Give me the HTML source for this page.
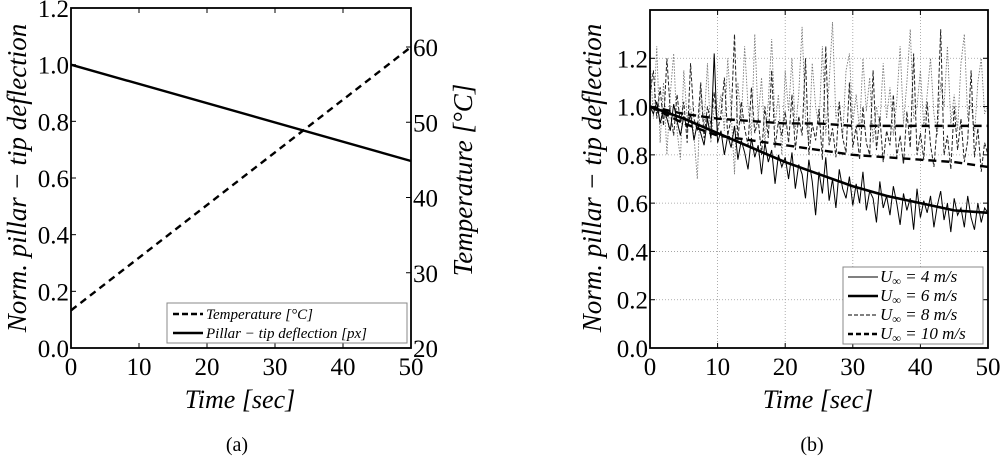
<!DOCTYPE html>
<html><head><meta charset="utf-8"><style>
body{margin:0;background:#fff;}
svg text{font-family:"Liberation Serif",serif;fill:#000;}
</style></head><body>
<svg id="fig" width="1000" height="464" viewBox="0 0 1000 464" xmlns="http://www.w3.org/2000/svg"></svg>
<script>
// ---- Panel (a) data ----
const aTime = [0, 50];
const aDeflection = [1.0, 0.66];
const aTemperature = [25.0, 60.0];
const aXTicks = [0, 10, 20, 30, 40, 50];
const aYTicks = ["0.0","0.2","0.4","0.6","0.8","1.0","1.2"];
const aY2Ticks = [20, 30, 40, 50, 60];
// ---- Panel (b) data ----
const bXTicks = [0, 10, 20, 30, 40, 50];
const bYTicks = ["0.0","0.2","0.4","0.6","0.8","1.0","1.2"];
const bTrendTime = [0,5,10,15,20,25,30,35,40,45,50];
const bU6 = [1.0,0.95,0.89,0.83,0.77,0.72,0.67,0.63,0.60,0.57,0.56];
const bU10Mean = [1.0,0.97,0.95,0.94,0.93,0.93,0.92,0.92,0.92,0.92,0.92];
const bU8Mean = [1.0,0.93,0.88,0.86,0.84,0.82,0.80,0.79,0.78,0.77,0.75];
const bU4 = [1.00,0.97,1.02,0.93,0.99,0.95,0.90,1.01,0.94,0.88,0.96,0.91,0.97,0.86,0.93,0.89,0.84,0.95,0.87,1.22,0.85,
0.90,0.80,0.88,0.83,0.92,0.78,0.86,0.81,0.74,0.87,0.79,0.84,0.72,0.85,0.77,0.82,0.68,0.80,0.75,0.79,
0.70,0.81,0.66,0.76,0.72,0.62,0.78,0.69,0.55,0.73,0.64,0.79,0.61,0.70,0.58,0.74,0.66,0.62,0.71,0.59,
0.68,0.60,0.73,0.57,0.65,0.62,0.52,0.69,0.58,0.63,0.55,0.67,0.60,0.51,0.64,0.57,0.62,0.49,0.66,0.54,
0.61,0.56,0.63,0.50,0.59,0.65,0.53,0.60,0.48,0.62,0.55,0.58,0.50,0.63,0.54,0.49,0.60,0.52,0.58,0.56];
const bU8 = [1.05,1.15,0.95,1.08,0.92,1.20,0.98,0.88,1.05,0.93,1.02,0.85,1.18,0.95,0.90,1.10,0.87,1.00,0.93,1.06,0.90,
0.97,1.12,0.88,0.95,1.30,0.86,1.02,0.91,0.84,1.08,0.89,0.95,0.80,1.00,0.87,1.15,0.83,0.94,0.88,0.98,
0.85,1.05,0.82,0.96,0.88,1.20,0.80,0.93,0.86,0.99,0.78,1.25,0.84,0.91,0.79,1.02,0.87,0.81,1.10,0.83,
0.92,0.78,1.00,0.85,0.80,1.15,0.82,0.96,0.77,0.90,0.84,1.05,0.79,0.88,0.76,0.98,0.83,1.22,0.80,0.89,
0.78,1.02,0.84,0.75,0.93,1.32,0.80,0.88,0.74,1.00,0.82,0.95,0.77,0.86,1.15,0.79,0.91,0.73,0.85,0.80];
const bU10 = [1.20,0.95,1.25,0.85,1.10,0.80,1.05,1.22,0.90,0.78,1.15,0.95,1.00,0.88,0.70,1.08,0.92,1.18,0.85,1.00,0.95,
1.05,0.90,1.20,0.98,0.72,1.10,0.93,1.25,1.00,0.88,1.30,0.95,1.12,0.85,1.02,1.28,0.92,1.05,0.80,1.15,
0.98,1.20,0.90,1.05,1.33,0.95,0.85,1.18,1.00,0.92,1.25,0.88,1.10,1.35,0.95,1.02,0.87,1.15,1.22,0.93,
1.05,0.90,1.20,0.98,1.12,0.85,1.00,0.92,1.18,0.95,1.08,0.88,1.02,1.25,0.93,1.10,1.32,0.95,1.00,1.15,
0.92,1.05,1.20,0.97,0.88,1.10,1.00,1.25,0.93,1.05,0.90,1.18,1.30,0.95,1.02,0.88,1.10,1.20,0.97,1.00];

const NS="http://www.w3.org/2000/svg";
const svg=document.getElementById('fig');
function mk(tag,attrs,parent){const e=document.createElementNS(NS,tag);for(const k in attrs)e.setAttribute(k,attrs[k]);(parent||svg).appendChild(e);return e;}
function txt(s,x,y,size,anchor,italic,parent){const t=mk('text',{x:x,y:y,'font-size':size,'text-anchor':anchor||'middle'},parent);if(italic)t.setAttribute('font-style','italic');t.textContent=s;return t;}

// ===== Panel (a) =====
const A={x0:71,x1:411,y0:348,y1:8};
const ax=t=>A.x0+(t/50)*(A.x1-A.x0);
const ay=v=>A.y0-(v/1.2)*(A.y0-A.y1);
const ay2=v=>A.y0-((v-20)/40)*(A.y0-47);
const gA=mk('g',{});


aXTicks.forEach(t=>{
  mk('line',{x1:ax(t),x2:ax(t),y1:A.y0,y2:A.y0-5,stroke:'#000','stroke-width':1},gA);
  mk('line',{x1:ax(t),x2:ax(t),y1:A.y1,y2:A.y1+5,stroke:'#000','stroke-width':1},gA);
  const l=txt(String(t),ax(t),375,25,'middle',false,gA);
  
  
});
aYTicks.forEach(s=>{const v=parseFloat(s);
  mk('line',{x1:A.x0,x2:A.x0+5,y1:ay(v),y2:ay(v),stroke:'#000','stroke-width':1},gA);
  const l=txt(s,69,ay(v)+9,25,'end',false,gA);
  
  
});
aY2Ticks.forEach(v=>{
  mk('line',{x1:A.x1,x2:A.x1-5,y1:ay2(v),y2:ay2(v),stroke:'#000','stroke-width':1},gA);
  const l=txt(String(v),413,ay2(v)+9,25,'start',false,gA);
  
  
});
const aT=mk('polyline',{points:aTime.map((t,i)=>ax(t)+','+ay2(aTemperature[i])).join(' '),fill:'none',stroke:'#000','stroke-width':2.4,'stroke-dasharray':'7,5'},gA);


const aD=mk('polyline',{points:aTime.map((t,i)=>ax(t)+','+ay(aDeflection[i])).join(' '),fill:'none',stroke:'#000','stroke-width':2.4},gA);


const aBox=mk('rect',{x:A.x0,y:A.y1,width:A.x1-A.x0,height:A.y0-A.y1,fill:'none',stroke:'#000','stroke-width':1.8},gA);


const aLeg=mk('g',{},gA);


mk('rect',{x:167,y:303,width:240,height:40,fill:'#fff',stroke:'#888','stroke-width':1},aLeg);
mk('line',{x1:173,x2:203,y1:314,y2:314,stroke:'#000','stroke-width':2.4,'stroke-dasharray':'6,3'},aLeg);
mk('line',{x1:173,x2:203,y1:333,y2:333,stroke:'#000','stroke-width':2.4},aLeg);
txt('Temperature [°C]',206,319,15,'start',true,aLeg);
txt('Pillar − tip deflection [px]',206,338,15,'start',true,aLeg);
txt('Time [sec]',240,408,26,'middle',true,gA);
let t1=txt('Norm. pillar − tip deflection',0,0,27,'middle',true,gA);
t1.setAttribute('transform','translate(26,178) rotate(-90)');

let t2=txt('Temperature [°C]',0,0,27,'middle',true,gA);
t2.setAttribute('transform','translate(472,180) rotate(-90)');

txt('(a)',237,451,20,'middle',false,gA);

// ===== Panel (b) =====
const B={x0:650,x1:988,y0:348,y1:10};
const bx=t=>B.x0+(t/50)*(B.x1-B.x0);
const by=v=>B.y0-(v/1.4)*(B.y0-B.y1);
const gB=mk('g',{});


bXTicks.forEach(t=>{
  if(t>0&&t<50) mk('line',{x1:bx(t),x2:bx(t),y1:B.y0,y2:B.y1,stroke:'#999','stroke-width':0.8,'stroke-dasharray':'1,2'},gB);
  mk('line',{x1:bx(t),x2:bx(t),y1:B.y0,y2:B.y0-5,stroke:'#000'},gB);
  mk('line',{x1:bx(t),x2:bx(t),y1:B.y1,y2:B.y1+5,stroke:'#000'},gB);
  const l=txt(String(t),bx(t),375,25,'middle',false,gB);
  
  
});
bYTicks.forEach(s=>{const v=parseFloat(s);
  if(v>0) mk('line',{x1:B.x0,x2:B.x1,y1:by(v),y2:by(v),stroke:'#999','stroke-width':0.8,'stroke-dasharray':'1,2'},gB);
  mk('line',{x1:B.x0,x2:B.x0+5,y1:by(v),y2:by(v),stroke:'#000'},gB);
  mk('line',{x1:B.x1,x2:B.x1-5,y1:by(v),y2:by(v),stroke:'#000'},gB);
  const l=txt(s,648,by(v)+9,25,'end',false,gB);
  
  
});
const nT=i=>i*0.5;
function series(arr,tf,style,name){const p=mk('polyline',Object.assign({points:arr.map((v,i)=>bx(tf(i))+','+by(v)).join(' '),fill:'none'},style),gB);
  
  }
series(bU10,nT,{stroke:'#777','stroke-width':0.9,'stroke-dasharray':'1.5,1.5'},'series-u10-raw');
series(bU8,nT,{stroke:'#222','stroke-width':1,'stroke-dasharray':'4,2'},'series-u8');
series(bU4,nT,{stroke:'#000','stroke-width':1},'series-u4');
series(bU10Mean,i=>bTrendTime[i],{stroke:'#000','stroke-width':2.4,'stroke-dasharray':'8,5'},'series-u10');
series(bU8Mean,i=>bTrendTime[i],{stroke:'#000','stroke-width':2.4,'stroke-dasharray':'8,5'},'series-u8-mean');
series(bU6,i=>bTrendTime[i],{stroke:'#000','stroke-width':2.6},'series-u6');
const bBox=mk('rect',{x:B.x0,y:B.y1,width:B.x1-B.x0,height:B.y0-B.y1,fill:'none',stroke:'#000','stroke-width':1.8},gB);


const bLeg=mk('g',{},gB);


mk('rect',{x:843,y:267,width:140,height:77,fill:'#fff',stroke:'#888','stroke-width':1},bLeg);
const legS=[['4',1,null],['6',2.6,null],['8',1,'4,2'],['10',2.4,'5,3']];
legS.forEach((s,i)=>{const y=277+i*19;
  const a={x1:848,x2:878,y1:y,y2:y,stroke:'#000','stroke-width':s[1]};if(s[2])a['stroke-dasharray']=s[2];
  mk('line',a,bLeg);
  const t=txt('',880,y+5,17,'start',true,bLeg);
  t.textContent='U';
  const sub=mk('tspan',{'font-size':12,dy:3},t);sub.textContent='∞';
  const r=mk('tspan',{dy:-3},t);r.textContent=' = '+s[0]+' m/s';
});
txt('Time [sec]',818,408,26,'middle',true,gB);
let t3=txt('Norm. pillar − tip deflection',0,0,27,'middle',true,gB);
t3.setAttribute('transform','translate(601,178) rotate(-90)');

txt('(b)',812,451,20,'middle',false,gB);
</script>
</body></html>
